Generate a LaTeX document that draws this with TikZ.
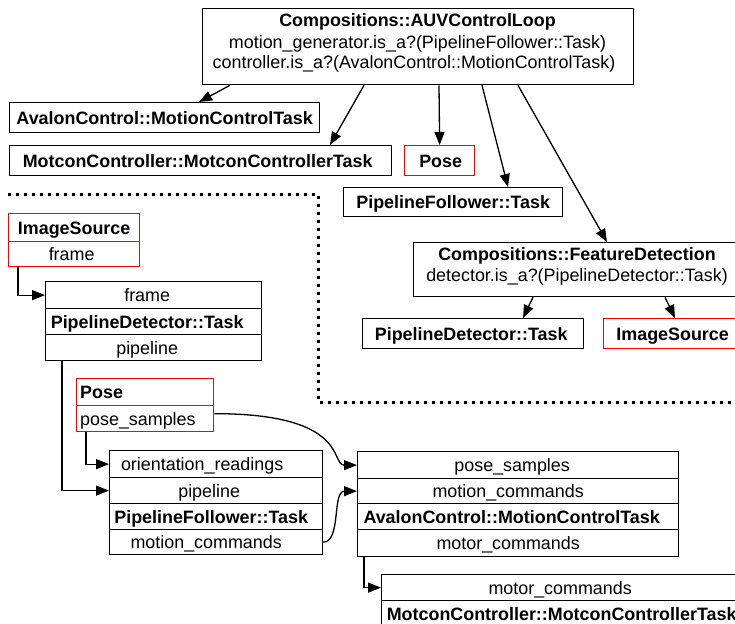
\documentclass[tikz,border=0pt]{standalone}
\usepackage{fontspec}
\setmainfont{Liberation Sans}
\usetikzlibrary{arrows.meta}

\tikzset{
  rec/.style={draw, line width=1.3pt, inner sep=0pt, anchor=north west},
  redrec/.style={rec, draw=red},
  lbl/.style={inner sep=0pt, anchor=base, font=\fontsize{17.9}{21}\selectfont},
  blbl/.style={lbl, font=\fontsize{17.9}{21}\selectfont\bfseries},
  arr/.style={line width=1.3pt, -{Triangle[length=13pt,width=10pt]}},
  dotline/.style={line width=3pt, dash pattern=on 3pt off 5pt},
}

\begin{document}
\begin{tikzpicture}[x=1pt,y=-1pt]
\useasboundingbox (0,0) rectangle (735,623);
\clip (0,0) rectangle (735,623);

% ---------- composition hierarchy ----------
\node[rec, minimum width=431pt, minimum height=76pt] (top) at (202,8) {};
\node[blbl] (top-l1) at (417.5,26.7) {Compositions::AUVControlLoop};
\node[lbl]  (top-l2) at (417.5,48.3) {motion\_generator.is\_a?(PipelineFollower::Task)};
\node[lbl]  (top-l3) at (414,69)     {controller.is\_a?(AvalonControl::MotionControlTask)};

\node[rec, minimum width=310pt, minimum height=30pt] (amc) at (9,102) {};
\node[blbl] (amc-t) at ([yshift=-6.4pt]amc.center) {AvalonControl::MotionControlTask};

\node[rec, minimum width=382pt, minimum height=30pt] (mcc) at (9,145) {};
\node[blbl] (mcc-t) at ([xshift=-3pt,yshift=-6.4pt]mcc.center) {MotconController::MotconControllerTask};

\node[redrec, minimum width=70pt, minimum height=30pt] (pose1) at (404,145) {};
\node[blbl] (pose1-t) at ([xshift=1pt,yshift=-6.4pt]pose1.center) {Pose};

\node[rec, minimum width=219pt, minimum height=29pt] (pft) at (343,187) {};
\node[blbl] (pft-t) at ([yshift=-6.4pt]pft.center) {PipelineFollower::Task};

\node[rec, minimum width=328pt, minimum height=54pt] (fd) at (413,242) {};
\node[blbl] (fd-l1) at (577,260)   {Compositions::FeatureDetection};
\node[lbl]  (fd-l2) at (577,281.7) {detector.is\_a?(PipelineDetector::Task)};

\node[rec, minimum width=221pt, minimum height=30pt] (pdt) at (362,318) {};
\node[blbl] (pdt-t) at ([xshift=-2pt,yshift=-6.4pt]pdt.center) {PipelineDetector::Task};

\node[redrec, minimum width=138pt, minimum height=30pt] (isrc) at (603,318) {};
\node[blbl] (isrc-t) at ([yshift=-6.4pt]isrc.center) {ImageSource};

\draw[arr] ([xshift=28pt]top.south west)  -- ([xshift=190pt]amc.north west);
\draw[arr] ([xshift=162pt]top.south west) -- ([xshift=321pt]mcc.north west);
\draw[arr] ([xshift=237pt]top.south west) -- (pose1.north);
\draw[arr] ([xshift=280pt]top.south west) -- ([xshift=165pt]pft.north west);
\draw[arr] ([xshift=316pt]top.south west) -- ([xshift=194pt]fd.north west);
\draw[arr] ([xshift=120pt]fd.south west)  -- ([xshift=161pt]pdt.north west);
\draw[arr] ([xshift=252pt]fd.south west)  -- ([xshift=72pt]isrc.north west);

% ---------- boundary of the composition ----------
\draw[dotline] (8,194) -- (318,194) -- (318,402) -- (740,402);

% ---------- data flow ----------
% ImageSource
\node[redrec, minimum width=131pt, minimum height=28pt] (is-name) at (8,213) {};
\node[blbl] (is-name-t) at ([yshift=-6.4pt]is-name.center) {ImageSource};
\node[redrec, minimum width=131pt, minimum height=25pt] (is-frame) at (8,241) {};
\node[lbl] (is-frame-t) at ([xshift=-2.5pt,yshift=-6.4pt]is-frame.center) {frame};

% PipelineDetector::Task
\node[rec, minimum width=216pt, minimum height=27pt] (pd-frame) at (45,281) {};
\node[lbl] (pd-frame-t) at ([xshift=-6.5pt,yshift=-6.4pt]pd-frame.center) {frame};
\node[rec, minimum width=216pt, minimum height=26pt] (pd-name) at (45,308) {};
\node[blbl] (pd-name-t) at ([xshift=-6.5pt,yshift=-6.4pt]pd-name.center) {PipelineDetector::Task};
\node[rec, minimum width=216pt, minimum height=26pt] (pd-pipe) at (45,334) {};
\node[lbl] (pd-pipe-t) at ([xshift=-6.5pt,yshift=-6.4pt]pd-pipe.center) {pipeline};

% Pose
\node[redrec, minimum width=137pt, minimum height=27pt] (pose-name) at (76,378) {};
\node[blbl, anchor=base west] (pose-name-t) at ([xshift=4pt,yshift=-6.4pt]pose-name.west) {Pose};
\node[redrec, minimum width=137pt, minimum height=26pt] (pose-samp) at (76,405) {};
\node[lbl, anchor=base west] (pose-samp-t) at ([xshift=4pt,yshift=-6.4pt]pose-samp.west) {pose\_samples};

% PipelineFollower::Task
\node[rec, minimum width=213pt, minimum height=27pt] (pf-orient) at (109,450) {};
\node[lbl] (pf-orient-t) at ([xshift=-14pt,yshift=-6.4pt]pf-orient.center) {orientation\_readings};
\node[rec, minimum width=213pt, minimum height=26pt] (pf-pipe) at (109,477) {};
\node[lbl] (pf-pipe-t) at ([xshift=-7pt,yshift=-6.4pt]pf-pipe.center) {pipeline};
\node[rec, minimum width=213pt, minimum height=26pt] (pf-name) at (109,503) {};
\node[blbl] (pf-name-t) at ([xshift=-5pt,yshift=-6.4pt]pf-name.center) {PipelineFollower::Task};
\node[rec, minimum width=213pt, minimum height=25pt] (pf-motion) at (109,529) {};
\node[lbl] (pf-motion-t) at ([xshift=-10pt,yshift=-6.4pt]pf-motion.center) {motion\_commands};

% AvalonControl::MotionControlTask
\node[rec, minimum width=321pt, minimum height=27pt] (ac-pose) at (357,451) {};
\node[lbl] (ac-pose-t) at ([xshift=-6pt,yshift=-6.4pt]ac-pose.center) {pose\_samples};
\node[rec, minimum width=321pt, minimum height=25pt] (ac-motion) at (357,478) {};
\node[lbl] (ac-motion-t) at ([xshift=-10pt,yshift=-6.4pt]ac-motion.center) {motion\_commands};
\node[rec, minimum width=321pt, minimum height=26pt] (ac-name) at (357,503) {};
\node[blbl] (ac-name-t) at ([xshift=-6.5pt,yshift=-6.4pt]ac-name.center) {AvalonControl::MotionControlTask};
\node[rec, minimum width=321pt, minimum height=27pt] (ac-motor) at (357,529) {};
\node[lbl] (ac-motor-t) at ([xshift=-10pt,yshift=-6.4pt]ac-motor.center) {motor\_commands};

% MotconController::MotconControllerTask
\node[rec, minimum width=360pt, minimum height=26pt] (mc-motor) at (381,574) {};
\node[lbl] (mc-motor-t) at ([xshift=-1.5pt,yshift=-6.4pt]mc-motor.center) {motor\_commands};
\node[rec, minimum width=360pt, minimum height=26pt] (mc-name) at (381,600) {};
\node[blbl] (mc-name-t) at ([yshift=-6.4pt]mc-name.center) {MotconController::MotconControllerTask};

% connections between ports
\draw[arr] ([xshift=10pt]is-frame.south west) |- (pd-frame.west);
\draw[arr] ([xshift=17pt]pd-pipe.south west) |- (pf-pipe.west);
\draw[arr] ([xshift=10pt]pose-samp.south west) |- (pf-orient.west);
\draw[arr] ([xshift=7pt]ac-motor.south west) |- (mc-motor.west);
\draw[arr] ([yshift=5pt]pose-samp.east) .. controls +(136,0) and +(-27,0) .. (ac-pose.west);
\draw[arr] (pf-motion.east) .. controls +(18,0) and +(-25,0) .. (ac-motion.west);
\end{tikzpicture}
\end{document}
